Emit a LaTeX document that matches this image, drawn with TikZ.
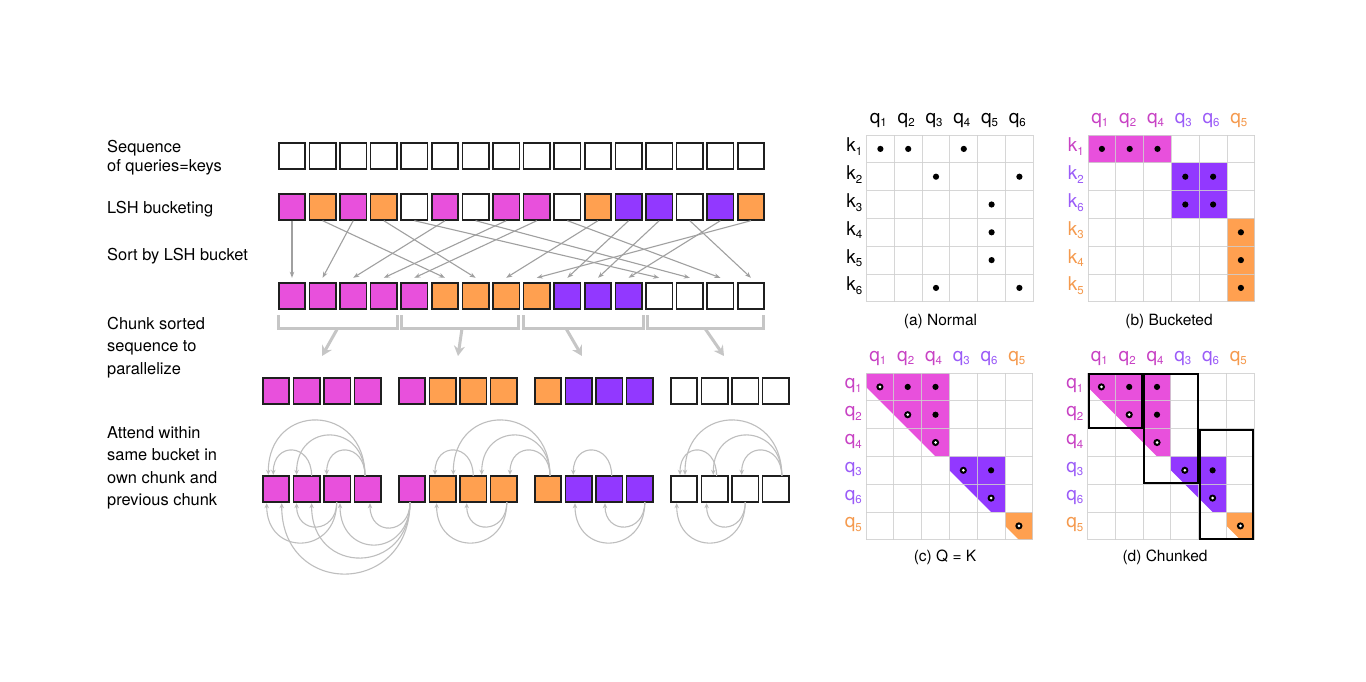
\documentclass[tikz,border=0pt]{standalone}
\usepackage{fontspec}
\setmainfont{TeX Gyre Heros}
\usetikzlibrary{arrows.meta}
\definecolor{mag}{HTML}{E850DC}
\definecolor{org}{HTML}{FFA050}
\definecolor{pur}{HTML}{9238FF}
\definecolor{magT}{HTML}{C842C4}
\definecolor{purT}{HTML}{9B5CF8}
\definecolor{orgT}{HTML}{F59A4E}
\definecolor{sortgray}{HTML}{A0A0A0}
\definecolor{arcgray}{HTML}{BEBEBE}
\definecolor{brkgray}{HTML}{C6C6C6}
\definecolor{gridgray}{HTML}{CFCFCF}
\newcommand\lb[2]{#1\raisebox{-3.5pt}{\fontsize{11.5}{11.5}\selectfont #2}}
\newcommand\aup[5]{\draw[arcarr] ([xshift=#2pt]a#1.north) .. controls +(0,-#5*1.333) and +(0,-#5*1.333) .. ([xshift=#4pt,yshift=1pt]a#3.north);}
\newcommand\adn[5]{\draw[arcarr] ([xshift=#2pt]a#1.south) .. controls +(0,#5*1.333) and +(0,#5*1.333) .. ([xshift=#4pt,yshift=-1pt]a#3.south);}
\newcommand\mgrid[2]{%
  \foreach \k in {0,...,6}{%
    \draw[gridl] ({#1+\k*27.8},#2) -- ({#1+\k*27.8},{#2+166.8});
    \draw[gridl] (#1,{#2+\k*27.8}) -- ({#1+166.8},{#2+\k*27.8});
  }}
\newcommand\bdot[4]{\fill[black] ({#1+(#4+0.5)*27.8},{#2+(#3+0.5)*27.8}) circle[radius=3.1];}
\newcommand\wdot[4]{\fill[black] ({#1+(#4+0.5)*27.8},{#2+(#3+0.5)*27.8}) circle[radius=3.6];
  \fill[white] ({#1+(#4+0.5)*27.8},{#2+(#3+0.5)*27.8}) circle[radius=1.5];}
\newcommand\tri[5]{\fill[#5] ({#1+#3*27.8},{#2+#3*27.8}) -- ({#1+(#3+#4)*27.8},{#2+#3*27.8})
  -- ({#1+(#3+#4)*27.8},{#2+(#3+#4)*27.8}) -- ({#1+(#3+#4-0.5)*27.8},{#2+(#3+#4)*27.8})
  -- ({#1+#3*27.8},{#2+(#3+0.5)*27.8}) -- cycle;}
\newcommand\rfill[6]{\fill[#6] ({#1+#4*27.8},{#2+#3*27.8}) rectangle ({#1+(#4+#5)*27.8},{#2+(#3+1)*27.8});}
\newcommand\cdmat[2]{%
  \tri{#1}{373}{0}{3}{mag}
  \tri{#1}{373}{3}{2}{pur}
  \tri{#1}{373}{5}{1}{org}
  \mgrid{#1}{373}
  \foreach \rr/\cc in {0/1,0/2,1/2,3/4}{\bdot{#1}{373}{\rr}{\cc}}
  \foreach \rr in {0,...,5}{\wdot{#1}{373}{\rr}{\rr}}
  \foreach \t/\cl [count=\i from 0] in {1/magT,2/magT,4/magT,3/purT,6/purT,5/orgT}{
    \node[labtxt,anchor=base,text=\cl] (qc#2\i) at ({#1+(\i+0.5)*27.8-2},361) {\lb{q}{\t}};
    \node[labtxt,anchor=base east,text=\cl] (kc#2\i) at ({#1-4},{373+(\i+0.5)*27.8+2}) {\lb{q}{\t}};
  }}
\tikzset{
  sq/.style={draw=black!88,line width=1.6pt,minimum size=26.4pt,inner sep=0pt,outer sep=0pt},
  sortarr/.style={draw=sortgray,line width=1.1pt,-{Stealth[length=6pt,width=4.5pt]}},
  arcarr/.style={draw=arcgray,line width=1.1pt,-{Stealth[length=5pt,width=4.5pt]}},
  brk/.style={draw=brkgray,line width=3pt},
  brkarr/.style={draw=brkgray,line width=3pt,-{Stealth[length=10pt,width=11pt]}},
  gridl/.style={draw=gridgray,line width=0.9pt,opacity=0.85},
  sidetxt/.style={font=\fontsize{16.4}{20}\selectfont,anchor=base west,inner sep=0pt},
  labtxt/.style={font=\fontsize{19}{20}\selectfont,inner sep=0pt},
  captxt/.style={font=\fontsize{15.5}{18}\selectfont,anchor=base,inner sep=0pt},
  chunkbox/.style={draw=black,line width=2pt}
}
\begin{document}
\begin{tikzpicture}[x=1pt,y=-1pt]
\useasboundingbox[fill=white] (0,0) rectangle (1366,681);

% ---------- left labels
\node[sidetxt] (l1) at (107,152) {Sequence};
\node[sidetxt] (l2) at (107,171) {of queries=keys};
\node[sidetxt] (l3) at (107,213) {LSH bucketing};
\node[sidetxt] (l4) at (107,260) {Sort by LSH bucket};
\node[sidetxt] (l5) at (107,329) {Chunk sorted};
\node[sidetxt] (l6) at (107,351.5) {sequence to};
\node[sidetxt] (l7) at (107,374) {parallelize};
\node[sidetxt] (l8) at (107,438) {Attend within};
\node[sidetxt] (l9) at (107,460.5) {same bucket in};
\node[sidetxt] (l10) at (107,483) {own chunk and};
\node[sidetxt] (l11) at (107,505.5) {previous chunk};

% ---------- rows of squares
\foreach \i in {0,...,15}{\node[sq,fill=white] (t\i) at (292+30.6*\i,156) {};}
\foreach \c [count=\i from 0] in {mag,org,mag,org,white,mag,white,mag,mag,white,org,pur,pur,white,pur,org}{
  \node[sq,fill=\c] (b\i) at (292+30.6*\i,207) {};}
\foreach \c [count=\i from 0] in {mag,mag,mag,mag,mag,org,org,org,org,pur,pur,pur,white,white,white,white}{
  \node[sq,fill=\c] (s\i) at (292+30.6*\i,296) {};}
\foreach \c [count=\i from 0] in {mag,mag,mag,mag,mag,org,org,org,org,pur,pur,pur,white,white,white,white}{
  \pgfmathtruncatemacro\g{\i/4}
  \pgfmathsetmacro\xx{276+136*\g+30.6*(\i-4*\g)}
  \node[sq,fill=\c] (c\i) at (\xx,391) {};
  \node[sq,fill=\c] (a\i) at (\xx,489) {};
}

% ---------- sort arrows
\foreach \s/\t in {0/0,1/5,2/1,3/6,4/12,5/2,6/13,7/3,8/4,9/14,10/7,11/9,12/10,13/15,14/11,15/8}{
  \draw[sortarr] ([yshift=-0.5pt]b\s.south) -- ([yshift=5pt]s\t.north);}

% ---------- brackets
\draw[brk] (278,315) -- (278,328.5) -- (397,328.5) -- (397,315);
\draw[brk] (401,315) -- (401,328.5) -- (518,328.5) -- (518,315);
\draw[brk] (523,315) -- (523,328.5) -- (643,328.5) -- (643,315);
\draw[brk] (647,315) -- (647,328.5) -- (763,328.5) -- (763,315);
\coordinate (bs1) at (337.5,328.5); \coordinate (be1) at (322,356);
\coordinate (bs2) at (462,328.5);   \coordinate (be2) at (458,356);
\coordinate (bs3) at (566,328.5);   \coordinate (be3) at (582,356);
\coordinate (bs4) at (705,328.5);   \coordinate (be4) at (724,356);
\foreach \k in {1,...,4}{\draw[brkarr] (bs\k) -- (be\k);}

% ---------- attention arcs (above)
\aup{1}{5}{0}{-2.7}{25}
\aup{3}{-2.8}{2}{-10.5}{25}
\aup{3}{-2.8}{1}{-10}{40}
\aup{3}{-2.8}{0}{-7.7}{55}
\aup{6}{0}{5}{-7.6}{25}
\aup{8}{2}{7}{6.2}{25}
\aup{8}{2}{6}{8.5}{40}
\aup{8}{2}{5}{10.7}{55}
\aup{10}{2.5}{9}{-5.3}{25}
\aup{13}{2}{12}{-4}{25}
\aup{15}{6}{14}{-3.5}{25}
\aup{15}{6}{13}{-1.3}{40}
\aup{15}{6}{12}{1}{55}
% ---------- attention arcs (below)
\adn{2}{-0.5}{1}{-10}{24}
\adn{2}{-0.5}{0}{-9.3}{40}
\adn{4}{-2}{3}{2.2}{25}
\adn{4}{-2}{2}{2.8}{42}
\adn{4}{-2}{1}{5}{55}
\adn{4}{-2}{0}{5.7}{71}
\adn{7}{3}{6}{-6.5}{24}
\adn{7}{3}{5}{-6}{40}
\adn{11}{5}{10}{-4.2}{24}
\adn{11}{5}{9}{-3.6}{40}
\adn{14}{0}{12}{-7.3}{40}
\adn{14}{0}{13}{-8}{24}

% ---------- matrix (a)
\mgrid{866.5}{135}
\foreach \rr/\cc in {0/0,0/1,0/3,1/2,1/5,2/4,3/4,4/4,5/2,5/5}{\bdot{866.5}{135}{\rr}{\cc}}
\foreach \t [count=\i from 0] in {1,...,6}{
  \node[labtxt,anchor=base] (qa\i) at ({866.5+(\i+0.5)*27.8-2},123) {\lb{q}{\t}};
  \node[labtxt,anchor=base east] (ka\i) at ({866.5-4},{135+(\i+0.5)*27.8+3}) {\lb{k}{\t}};
}
\node[captxt] (capa) at (940.5,325) {(a) Normal};

% ---------- matrix (b)
\rfill{1088}{135}{0}{0}{3}{mag}
\rfill{1088}{135}{1}{3}{2}{pur}
\rfill{1088}{135}{2}{3}{2}{pur}
\rfill{1088}{135}{3}{5}{1}{org}
\rfill{1088}{135}{4}{5}{1}{org}
\rfill{1088}{135}{5}{5}{1}{org}
\mgrid{1088}{135}
\foreach \rr/\cc in {0/0,0/1,0/2,1/3,1/4,2/3,2/4,3/5,4/5,5/5}{\bdot{1088}{135}{\rr}{\cc}}
\foreach \t/\cl [count=\i from 0] in {1/magT,2/magT,4/magT,3/purT,6/purT,5/orgT}{
  \node[labtxt,anchor=base,text=\cl] (qb\i) at ({1088+(\i+0.5)*27.8-2},123) {\lb{q}{\t}};}
\foreach \t/\cl [count=\i from 0] in {1/magT,2/purT,6/purT,3/orgT,4/orgT,5/orgT}{
  \node[labtxt,anchor=base east,text=\cl] (kb\i) at ({1088-4},{135+(\i+0.5)*27.8+3}) {\lb{k}{\t}};}
\node[captxt] (capb) at (1169,325) {(b) Bucketed};

% ---------- matrices (c) and (d)
\cdmat{866}{c}
\cdmat{1087.5}{d}
\node[captxt] (capc) at (945,561.5) {(c) Q = K};
\node[captxt] (capd) at (1165,561.5) {(d) Chunked};

% chunk boxes in (d)
\draw[chunkbox] (1088.5,374) rectangle ({1087.5+2*27.8-1},{373+2*27.8-1});
\draw[chunkbox] ({1087.5+2*27.8+1},374) rectangle ({1087.5+4*27.8-1},{373+4*27.8-1});
\draw[chunkbox] ({1087.5+4*27.8+1},{373+2*27.8+1}) rectangle ({1087.5+6*27.8-1},{373+6*27.8-1});
\end{tikzpicture}
\end{document}
